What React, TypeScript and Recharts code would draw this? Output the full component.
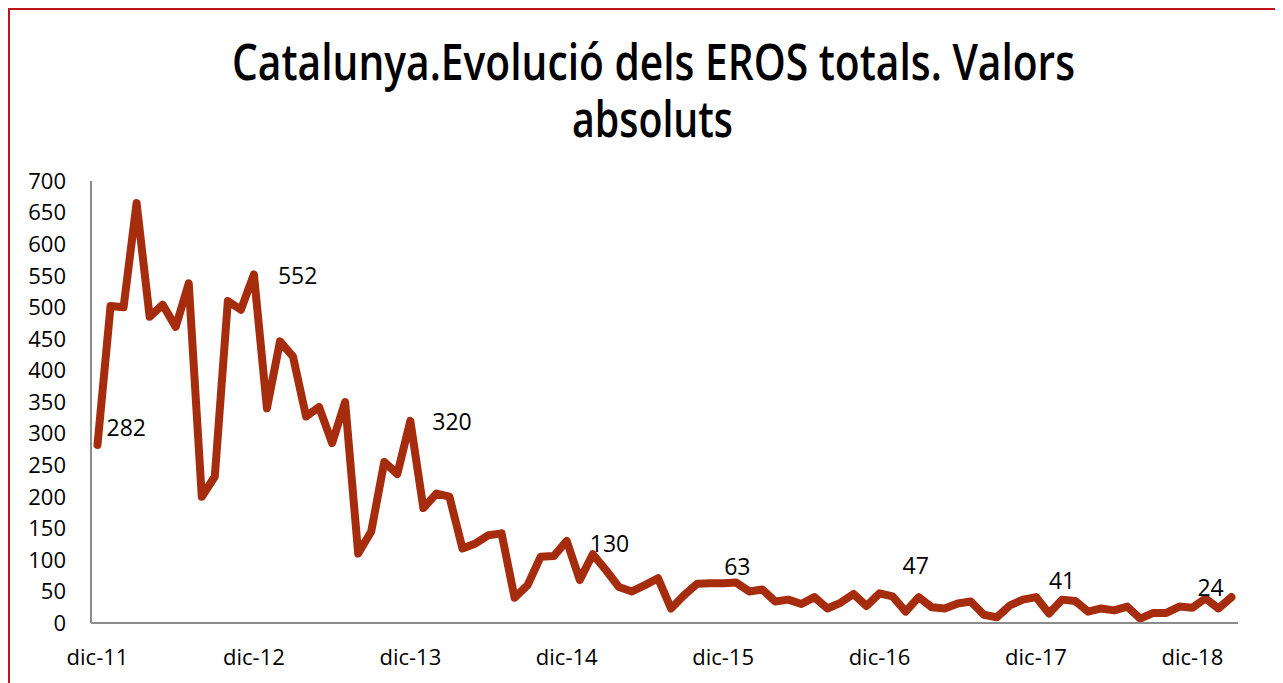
import React from 'react';
import { LineChart, Line, XAxis, YAxis, LabelList } from 'recharts';

// monthly EROS counts, dic-11 .. mar-19
const meses = ['ene', 'feb', 'mar', 'abr', 'may', 'jun', 'jul', 'ago', 'sep', 'oct', 'nov', 'dic'];

const valores = [
  282, 502, 500, 665, 485, 504, 469, 538, 200, 232, 510, 496,
  552, 340, 446, 422, 327, 342, 285, 350, 110, 145, 255, 236,
  320, 182, 205, 200, 118, 126, 139, 142, 40, 60, 105, 106,
  130, 68, 109, 84, 57, 50, 60, 71, 23, 44, 62, 63,
  63, 64, 50, 53, 34, 37, 30, 41, 23, 32, 46, 27,
  47, 42, 18, 41, 25, 23, 31, 34, 13, 9, 28, 37,
  41, 15, 37, 35, 18, 23, 20, 26, 7, 16, 16, 26,
  24, 39, 23, 41,
];

const yTicks = [0, 50, 100, 150, 200, 250, 300, 350, 400, 450, 500, 550, 600, 650, 700];

const titleLines = ['Catalunya.Evolució dels EROS totals. Valors', 'absoluts'];

// data labels only on the december points
const labelled = [0, 12, 24, 36, 48, 60, 72, 84];

// hand placement of the labels (dx to text start, dy to text middle)
const labelNudge: Record<number, [number, number]> = {
  0: [9, -18],
  12: [24, 1],
  24: [22, 0],
  36: [23, 2],
  48: [1, -17],
  60: [23, -28],
  72: [13, -17],
  84: [5, -21],
};

const data = valores.map((v, i) => {
  const m = (i + 11) % 12;
  const y = 11 + Math.floor((i + 11) / 12);
  return { mes: `${meses[m]}-${y}`, value: v };
});

const font = "'Open Sans', 'Noto Sans', sans-serif";
const axisColor = '#8c8c8c';

const renderLabel = (props: any) => {
  const { x, y, value, index } = props;
  if (!labelled.includes(index)) return null;
  const [dx, dy] = labelNudge[index] || [8, 0];
  return (
    <text
      x={x + dx}
      y={y + dy}
      dominantBaseline="central"
      fontFamily={font}
      fontSize={23}
      fill="#000"
    >
      {value}
    </text>
  );
};

export default function App() {
  return (
    <div
      style={{
        position: 'relative',
        width: 1273,
        height: 673,
        borderTop: '2px solid #c0141c',
        borderLeft: '2px solid #c0141c',
        overflow: 'hidden',
        background: '#fff',
      }}
    >
      <svg
        width={1273}
        height={160}
        style={{ position: 'absolute', left: 0, top: 0 }}
      >
        <text
          x={643.5}
          y={70}
          textAnchor="middle"
          textLength={843}
          lengthAdjust="spacingAndGlyphs"
          fontFamily={font}
          fontWeight={600}
          fontSize={50}
          fill="#000"
        >
          {titleLines[0]}
        </text>
        <text
          x={642.5}
          y={127}
          textAnchor="middle"
          textLength={161}
          lengthAdjust="spacingAndGlyphs"
          fontFamily={font}
          fontWeight={600}
          fontSize={50}
          fill="#000"
        >
          {titleLines[1]}
        </text>
      </svg>
      <LineChart
        width={1273}
        height={663}
        data={data}
        margin={{ top: 171, right: 45, left: 0, bottom: 20 }}
        style={{ position: 'absolute', left: 0, top: 0 }}
      >
        <XAxis
          dataKey="mes"
          interval={11}
          padding={{ left: 6.5, right: 6.5 }}
          tickLine={false}
          tickSize={0}
          tickMargin={26}
          height={30}
          axisLine={{ stroke: axisColor, strokeWidth: 2 }}
          tick={{ fill: '#000', fontSize: 22, fontFamily: font }}
        />
        <YAxis
          domain={[0, 700]}
          ticks={yTicks}
          interval={0}
          width={81}
          tickLine={false}
          tickSize={0}
          tickMargin={25}
          axisLine={{ stroke: axisColor, strokeWidth: 2 }}
          tick={{ fill: '#000', fontSize: 22, fontFamily: font }}
        />
        <Line
          type="linear"
          dataKey="value"
          stroke="#a62c0e"
          strokeWidth={8}
          strokeLinejoin="round"
          strokeLinecap="round"
          dot={false}
          isAnimationActive={false}
        >
          <LabelList dataKey="value" content={renderLabel} />
        </Line>
      </LineChart>
    </div>
  );
}
